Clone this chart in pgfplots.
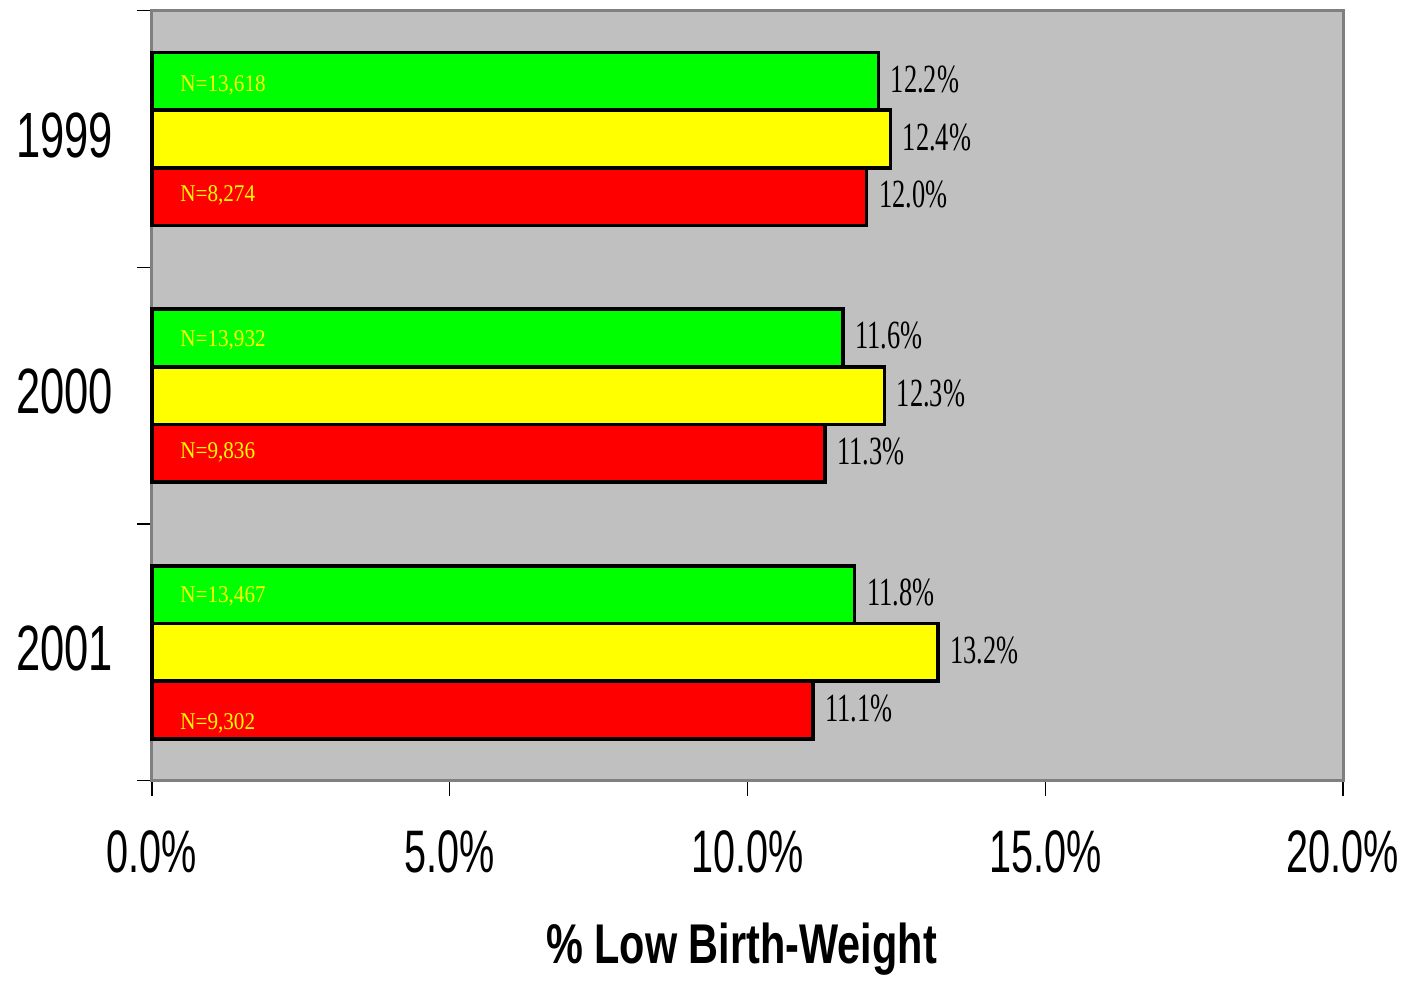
\documentclass[border=0pt]{standalone}
\usepackage{pgfplots}
\pgfplotsset{compat=1.18}
\usepackage{pgfplotstable}
\usepackage{fontspec}
\setmainfont{Liberation Sans}
\newfontfamily\tickfont[FakeStretch=0.66]{Liberation Sans}
\newfontfamily\yearfont[FakeStretch=0.68]{Liberation Sans}
\newfontfamily\labfont[FakeStretch=0.74]{Liberation Sans}
\newfontfamily\valfont[FakeStretch=0.66]{Liberation Serif}
\newfontfamily\nfont[FakeStretch=0.88]{Liberation Serif}
\definecolor{bggray}{RGB}{192,192,192}
\definecolor{framegray}{RGB}{128,128,128}
\definecolor{bargreen}{RGB}{0,255,0}
\definecolor{baryellow}{RGB}{255,255,0}
\definecolor{barred}{RGB}{255,0,0}

% bars: x = percent, y = category position (0=1999, 1=2000, 2=2001) plus offset
\pgfplotstableread{
x y
12.2 -0.225
11.6 0.775
11.8 1.775
}\datgreen
\pgfplotstableread{
x y
12.4 0
12.3 1
13.2 2
}\datyellow
\pgfplotstableread{
x y
12.0 0.225
11.3 1.225
11.1 2.225
}\datred
\pgfplotstableread{
x y lab
0.47 -0.21 N=13,618
0.47 0.22 N=8,274
0.47 0.786 N=13,932
0.47 1.222 N=9,836
0.47 1.783 N=13,467
0.47 2.278 N=9,302
}\datn

\begin{document}
\begin{tikzpicture}
\begin{axis}[
    name=ax,
    scale only axis,
    width=595.5pt, height=385pt,
    xmin=0, xmax=20,
    ymin=-0.5, ymax=2.5,
    y dir=reverse,
    axis background/.style={fill=bggray},
    axis line style={draw=framegray, line width=1.5pt},
    tick align=outside,
    major tick length=7.5pt,
    tick style={black, line width=0.6pt},
    xtick pos=bottom, ytick pos=left,
    xtick={0,5,10,15,20},
    xticklabels={0.0\%,5.0\%,10.0\%,15.0\%,20.0\%},
    xticklabel style={font=\tickfont\fontsize{30}{34}\selectfont, yshift=-14pt},
    ytick={-0.5,0.5,1.5,2.5},
    yticklabels={},
    extra y ticks={0,1,2},
    extra y tick labels={1999,2000,2001},
    extra y tick style={major tick length=0pt},
    yticklabel style={font=\yearfont\fontsize{32}{36}\selectfont, xshift=-16pt, yshift=2pt},
    xlabel={\% Low Birth-Weight},
    xlabel style={font=\labfont\fontsize{28}{32}\selectfont\bfseries, yshift=-18pt, xshift=-3pt},
    clip=false,
]
\addplot[xbar, bar width=0.225, bar shift=0pt, fill=bargreen, draw=black, line width=1.8pt,
    point meta=x, nodes near coords={\pgfmathprintnumber[fixed,zerofill,precision=1,assume math mode=true]{\pgfplotspointmeta}\%},
    nodes near coords style={font=\valfont\fontsize{20}{24}\selectfont, text=black, xshift=2pt, yshift=1pt}]
    table[x=x,y=y] {\datgreen};
\addplot[xbar, bar width=0.225, bar shift=0pt, fill=baryellow, draw=black, line width=1.8pt,
    point meta=x, nodes near coords={\pgfmathprintnumber[fixed,zerofill,precision=1,assume math mode=true]{\pgfplotspointmeta}\%},
    nodes near coords style={font=\valfont\fontsize{20}{24}\selectfont, text=black, xshift=2pt, yshift=1pt}]
    table[x=x,y=y] {\datyellow};
\addplot[xbar, bar width=0.225, bar shift=0pt, fill=barred, draw=black, line width=1.8pt,
    point meta=x, nodes near coords={\pgfmathprintnumber[fixed,zerofill,precision=1,assume math mode=true]{\pgfplotspointmeta}\%},
    nodes near coords style={font=\valfont\fontsize{20}{24}\selectfont, text=black, xshift=2pt, yshift=1pt}]
    table[x=x,y=y] {\datred};
\addplot[draw=none, mark=none, point meta=explicit symbolic,
    nodes near coords, nodes near coords align={horizontal},
    nodes near coords style={anchor=west, inner sep=0pt, text=baryellow, font=\nfont\fontsize{12}{14}\selectfont}]
    table[x=x,y=y,meta=lab] {\datn};
\end{axis}
\path[use as bounding box] ([xshift=-76pt,yshift=-100.5pt]ax.south west) rectangle ([xshift=31.5pt,yshift=4pt]ax.north east);
\end{tikzpicture}
\end{document}
